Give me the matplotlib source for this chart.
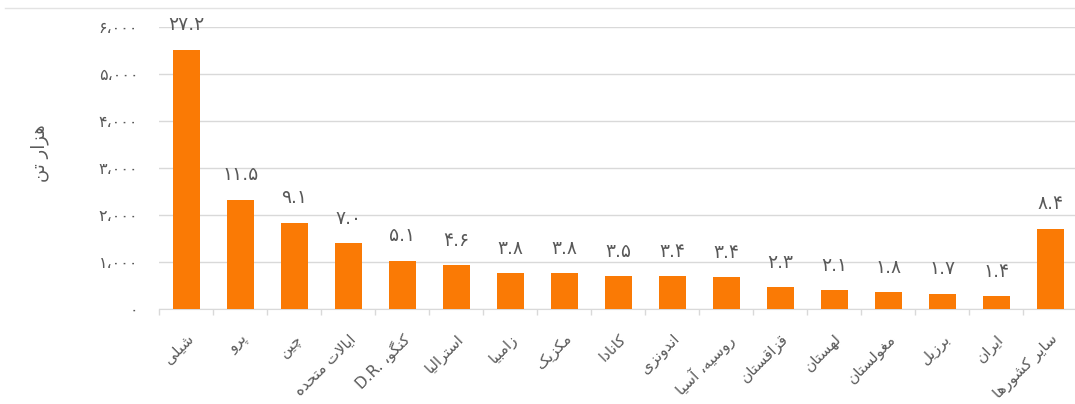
import re
import matplotlib
matplotlib.use("Agg")
import matplotlib.pyplot as plt
from matplotlib.lines import Line2D

# ---------------- data ----------------
categories = ["شیلی", "پرو", "چین", "ایالات متحده", "کنگو، D.R.", "استرالیا",
              "زامبیا", "مکزیک", "کانادا", "اندونزی", "روسیه، آسیا", "قزاقستان",
              "لهستان", "مغولستان", "برزیل", "ایران", "سایر کشورها"]
values = [5520, 2330, 1840, 1410, 1030, 935, 770, 765, 705, 700, 680,
          465, 410, 365, 330, 280, 1710]
shares = ["27.2", "11.5", "9.1", "7.0", "5.1", "4.6", "3.8", "3.8", "3.5",
          "3.4", "3.4", "2.3", "2.1", "1.8", "1.7", "1.4", "8.4"]
yticks = [0, 1000, 2000, 3000, 4000, 5000, 6000]
ylabel = "هزار تن"

# ---------------- simple Persian shaping ----------------
# letter: (isolated, final, initial, medial); None = right-joining only
FORMS = {
    'ا': (0xFE8D, 0xFE8E, None, None), 'آ': (0xFE81, 0xFE82, None, None),
    'ب': (0xFE8F, 0xFE90, 0xFE91, 0xFE92), 'پ': (0xFB56, 0xFB57, 0xFB58, 0xFB59),
    'ت': (0xFE95, 0xFE96, 0xFE97, 0xFE98), 'ث': (0xFE99, 0xFE9A, 0xFE9B, 0xFE9C),
    'ج': (0xFE9D, 0xFE9E, 0xFE9F, 0xFEA0), 'چ': (0xFB7A, 0xFB7B, 0xFB7C, 0xFB7D),
    'ح': (0xFEA1, 0xFEA2, 0xFEA3, 0xFEA4), 'خ': (0xFEA5, 0xFEA6, 0xFEA7, 0xFEA8),
    'د': (0xFEA9, 0xFEAA, None, None), 'ذ': (0xFEAB, 0xFEAC, None, None),
    'ر': (0xFEAD, 0xFEAE, None, None), 'ز': (0xFEAF, 0xFEB0, None, None),
    'ژ': (0xFB8A, 0xFB8B, None, None),
    'س': (0xFEB1, 0xFEB2, 0xFEB3, 0xFEB4), 'ش': (0xFEB5, 0xFEB6, 0xFEB7, 0xFEB8),
    'ص': (0xFEB9, 0xFEBA, 0xFEBB, 0xFEBC), 'ض': (0xFEBD, 0xFEBE, 0xFEBF, 0xFEC0),
    'ط': (0xFEC1, 0xFEC2, 0xFEC3, 0xFEC4), 'ظ': (0xFEC5, 0xFEC6, 0xFEC7, 0xFEC8),
    'ع': (0xFEC9, 0xFECA, 0xFECB, 0xFECC), 'غ': (0xFECD, 0xFECE, 0xFECF, 0xFED0),
    'ف': (0xFED1, 0xFED2, 0xFED3, 0xFED4), 'ق': (0xFED5, 0xFED6, 0xFED7, 0xFED8),
    'ک': (0xFB8E, 0xFB8F, 0xFB90, 0xFB91), 'گ': (0xFB92, 0xFB93, 0xFB94, 0xFB95),
    'ل': (0xFEDD, 0xFEDE, 0xFEDF, 0xFEE0), 'م': (0xFEE1, 0xFEE2, 0xFEE3, 0xFEE4),
    'ن': (0xFEE5, 0xFEE6, 0xFEE7, 0xFEE8), 'و': (0xFEED, 0xFEEE, None, None),
    'ه': (0xFEE9, 0xFEEA, 0xFEEB, 0xFEEC), 'ی': (0xFBFC, 0xFBFD, 0xFBFE, 0xFBFF),
}


def dual(c):
    return c in FORMS and FORMS[c][2] is not None


def shape(s):
    out = []
    n = len(s)
    i = 0
    while i < n:
        c = s[i]
        if c not in FORMS:
            out.append(c)
            i += 1
            continue
        prev = s[i - 1] if i > 0 else ''
        jp = dual(prev)
        if c == 'ل' and i + 1 < n and s[i + 1] in ('ا', 'آ'):
            if s[i + 1] == 'ا':
                out.append(chr(0xFEFC if jp else 0xFEFB))
            else:
                out.append(chr(0xFEF6 if jp else 0xFEF5))
            i += 2
            continue
        nxt = s[i + 1] if i + 1 < n else ''
        jn = dual(c) and nxt in FORMS
        iso, fin, ini, med = FORMS[c]
        if jp and jn:
            code = med
        elif jp:
            code = fin
        elif jn:
            code = ini
        else:
            code = iso
        out.append(chr(code))
        i += 1
    return ''.join(out)


def visual(s):
    v = shape(s)[::-1]
    return re.sub(r'[A-Za-z0-9.]+', lambda m: m.group(0)[::-1], v)


PDIG = str.maketrans("0123456789", "۰۱۲۳۴۵۶۷۸۹")


def pnum(s):
    return s.translate(PDIG)


def pthousands(v):
    return pnum(f"{v:,}").replace(",", "،")


# ---------------- plot ----------------
plt.rcParams['font.family'] = ['DejaVu Sans']
TXT = '#595959'
GRID = '#d9d9d9'
BAR = '#FA7A05'

fig = plt.figure(figsize=(10.75, 4.04), dpi=100)
ax = fig.add_axes([0.148, 0.235, 0.854, 0.698])

x = list(range(len(categories)))
ax.bar(x, values, width=0.5, color=BAR, zorder=3)
ax.set_xlim(-0.5, len(categories) - 0.5)
ax.set_ylim(0, 6000)

ax.set_yticks(yticks)
ax.set_yticklabels([pthousands(v) for v in yticks], color=TXT, fontsize=11.5)
ax.tick_params(axis='y', length=0, pad=15)
ax.grid(axis='y', color=GRID, linewidth=1, zorder=0)

ax.set_xticks(x)
ax.set_xticklabels([visual(c) for c in categories], rotation=45, ha='right',
                   rotation_mode='anchor', color=TXT, fontsize=11)
ax.tick_params(axis='x', length=0, pad=16)
# separator ticks between categories
ax.set_xticks([i - 0.5 for i in range(len(categories) + 1)], minor=True)
ax.tick_params(axis='x', which='minor', length=4, color=GRID, width=1)

for s in ['top', 'right', 'left']:
    ax.spines[s].set_visible(False)
ax.spines['bottom'].set_color(GRID)

for xi, v, sh in zip(x, values, shares):
    ax.annotate(pnum(sh), (xi, v), xytext=(0, 11), textcoords='offset points',
                ha='center', va='bottom', color=TXT, fontsize=13.5, zorder=4)

fig.text(0.037, 0.62, visual(ylabel), rotation=90, ha='center', va='center',
         color=TXT, fontsize=13)

fig.add_artist(Line2D([0.005, 1.0], [1 - 8 / 404, 1 - 8 / 404],
                      transform=fig.transFigure, color='#e3e3e3', linewidth=1))

fig.savefig("out.png", dpi=100)
